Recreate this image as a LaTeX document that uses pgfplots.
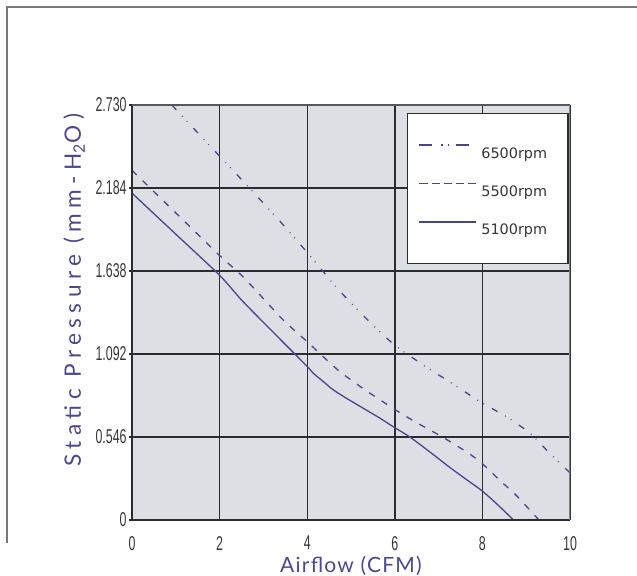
\documentclass[border=0pt]{standalone}
\usepackage{fontspec}
\setmainfont{Liberation Sans}
\newfontfamily\tickfont[FakeStretch=0.62]{Liberation Sans}
\newfontfamily\labfont[LetterSpace=6]{Lato}
\newfontfamily\ylabfont[LetterSpace=24]{Lato}
\newfontfamily\legfont{DejaVu Sans}
\usepackage{pgfplots}
\pgfplotsset{compat=1.18}
\definecolor{curve}{RGB}{72,70,140}
\definecolor{labcol}{RGB}{74,72,142}
\definecolor{bgcol}{RGB}{220,223,228}
\definecolor{gridcol}{RGB}{40,46,46}
\definecolor{tickcol}{RGB}{55,55,55}
\definecolor{framegray}{RGB}{120,120,120}
\definecolor{rightgray}{RGB}{128,130,132}
\begin{document}
\begin{tikzpicture}
\useasboundingbox (0,0) rectangle (318.5pt,288pt);
\draw[framegray, line width=0.7pt] (318.5pt,284.5pt) -- (3.5pt,284.5pt) -- (3.5pt,16.5pt);
\begin{axis}[
  at={(66pt,28pt)}, anchor=south west, scale only axis,
  width=219pt, height=207.5pt,
  xmin=0, xmax=10, ymin=0, ymax=2.73,
  xtick={0,2,4,6,8,10}, xticklabels={0,2,4,6,8,10},
  ytick={0,0.546,1.092,1.638,2.184,2.73},
  yticklabels={0,0.546,1.092,1.638,2.184,2.730},
  tick pos=left, tick align=outside, major tick length=1.5pt,
  x tick style={draw=none},
  y tick style={draw=gridcol, line width=0.6pt},
  grid=major, major grid style={draw=gridcol, line width=0.7pt},
  axis line style={draw=none},
  axis background/.style={fill=bgcol},
  ticklabel style={font=\tickfont\fontsize{10}{10}\selectfont, text=tickcol},
  yticklabel style={inner xsep=1pt},
  xticklabel style={yshift=-3pt},
  xlabel={Airflow (CFM)},
  ylabel={Static Pressure (mm-H\textsubscript{2}O)},
  xlabel style={at={(axis description cs:0.5,-0.111)}, anchor=center,
    font=\labfont\fontsize{10.5}{10.5}\selectfont, text=labcol},
  ylabel style={at={(axis description cs:-0.132,0.554)}, anchor=center,
    font=\ylabfont\fontsize{11.3}{11.3}\selectfont, text=labcol},
  legend cell align=left,
  legend image code/.code={\draw[#1] (0pt,2.5pt) -- (28.5pt,2.5pt);},
  legend style={at={(0.628,0.981)}, anchor=north west, draw=gridcol, fill=white,
    line width=0.6pt, inner xsep=5.5pt, inner ysep=8.7pt, row sep=0pt, column sep=2.2pt,
    nodes={inner sep=0pt, minimum height=19.2pt, text width=37.8pt,
      text height=9.5pt, text depth=1.5pt,
      font=\legfont\fontsize{7.2}{7.2}\selectfont, text=tickcol}},
]
\addlegendimage{curve, line width=0.65pt, dash pattern=on 6.5pt off 4.5pt on 0.6pt off 2.5pt on 0.6pt off 3.4pt}
\addlegendentry{6500rpm}
\addlegendimage{curve, line width=0.65pt, dash pattern=on 4.1pt off 2pt}
\addlegendentry{5500rpm}
\addlegendimage{curve, line width=0.65pt}
\addlegendentry{5100rpm}
\addplot[forget plot, curve, line width=0.65pt, smooth, tension=0.4,
  dash pattern=on 3.25pt off 4.3pt on 0.4pt off 3pt on 0.4pt off 4.5pt]
  coordinates {(0.91,2.73) (1.75,2.47) (2.58,2.215) (3.3,1.99) (4,1.76) (4.7,1.52) (5.4,1.31)
  (6,1.15) (6.7,1.01) (7.3,0.90) (7.94,0.78) (8.6,0.67) (9.09,0.57) (9.5,0.45) (10,0.31)};
\addplot[forget plot, curve, line width=0.65pt, smooth, tension=0.4, dash pattern=on 3.3pt off 4.1pt]
  coordinates {(0,2.30) (1,2.02) (2,1.74) (2.57,1.59) (3.45,1.316) (4,1.173) (4.4,1.065) (4.75,0.975)
  (5.3,0.86) (6,0.727) (6.5,0.64) (7.1,0.544) (7.68,0.44) (8,0.37) (8.4,0.26) (8.78,0.16) (9.29,0)};
\addplot[forget plot, curve, line width=0.65pt, smooth, tension=0.4]
  coordinates {(0,2.15) (1,1.88) (2,1.61) (2.5,1.447) (3,1.30) (3.5,1.155) (4,1.01)
  (4.14,0.965) (4.37,0.91) (4.59,0.857) (4.9,0.80) (5.28,0.735) (5.66,0.67) (6,0.607)
  (6.35,0.545) (6.88,0.43) (7.26,0.345) (7.64,0.265) (8,0.19) (8.35,0.10) (8.71,0)};
\draw[gridcol, line width=0.8pt] (rel axis cs:0,1) -- (rel axis cs:0,0) -- (rel axis cs:1,0);
\draw[gridcol!80, line width=0.6pt] (rel axis cs:0,1) -- (rel axis cs:1,1);
\draw[rightgray, line width=1.1pt] (rel axis cs:1,0) -- (rel axis cs:1,1);
\end{axis}
\end{tikzpicture}
\end{document}
